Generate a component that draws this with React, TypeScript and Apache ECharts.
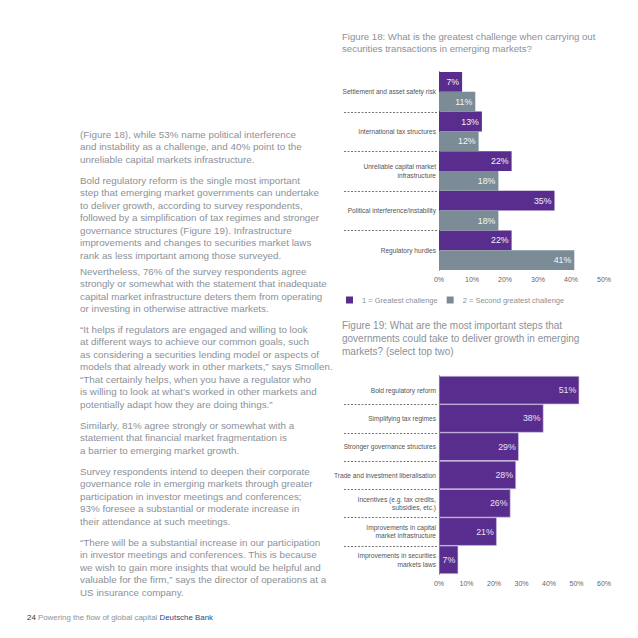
import React, { useEffect, useRef } from 'react';
import * as echarts from 'echarts';

const fig18Categories = [
  'Settlement and asset safety risk',
  'International tax structures',
  'Unreliable capital market\ninfrastructure',
  'Political interference/instability',
  'Regulatory hurdles',
];
const fig18Greatest = [7, 13, 22, 35, 22];
const fig18Second = [11, 12, 18, 18, 41];
const fig18SeriesNames = ['1 = Greatest challenge', '2 = Second greatest challenge'];

const fig19Categories = [
  'Bold regulatory reform',
  'Simplifying tax regimes',
  'Stronger governance structures',
  'Trade and investment liberalisation',
  'Incentives (e.g. tax credits,\nsubsidies, etc.)',
  'Improvements in capital\nmarket infrastructure',
  'Improvements in securities\nmarkets laws',
];
const fig19Values = [51, 38, 29, 28, 26, 21, 7];

const fig18Title = [
  'Figure 18: What is the greatest challenge when carrying out',
  'securities transactions in emerging markets?',
];
const fig19Title = [
  'Figure 19: What are the most important steps that',
  'governments could take to deliver growth in emerging',
  'markets? (select top two)',
];

const bodyParagraphs = [
  [
    '(Figure 18), while 53% name political interference',
    'and instability as a challenge, and 40% point to the',
    'unreliable capital markets infrastructure.',
  ],
  [
    'Bold regulatory reform is the single most important',
    'step that emerging market governments can undertake',
    'to deliver growth, according to survey respondents,',
    'followed by a simplification of tax regimes and stronger',
    'governance structures (Figure 19). Infrastructure',
    'improvements and changes to securities market laws',
    'rank as less important among those surveyed.',
  ],
  [
    'Nevertheless, 76% of the survey respondents agree',
    'strongly or somewhat with the statement that inadequate',
    'capital market infrastructure deters them from operating',
    'or investing in otherwise attractive markets.',
  ],
  [
    '\u201CIt helps if regulators are engaged and willing to look',
    'at different ways to achieve our common goals, such',
    'as considering a securities lending model or aspects of',
    'models that already work in other markets,\u201D says Smollen.',
    '\u201CThat certainly helps, when you have a regulator who',
    'is willing to look at what\u2019s worked in other markets and',
    'potentially adapt how they are doing things.\u201D',
  ],
  [
    'Similarly, 81% agree strongly or somewhat with a',
    'statement that financial market fragmentation is',
    'a barrier to emerging market growth.',
  ],
  [
    'Survey respondents intend to deepen their corporate',
    'governance role in emerging markets through greater',
    'participation in investor meetings and conferences;',
    '93% foresee a substantial or moderate increase in',
    'their attendance at such meetings.',
  ],
  [
    '\u201CThere will be a substantial increase in our participation',
    'in investor meetings and conferences. This is because',
    'we wish to gain more insights that would be helpful and',
    'valuable for the firm,\u201D says the director of operations at a',
    'US insurance company.',
  ],
];
const paragraphTops = [129, 175, 266, 324, 420, 466, 537];

const PURPLE = '#582d8d';
const GRAY = '#7b8c97';
const TEXT = '#8b9198';
const FONT = '"Liberation Sans", Arial, sans-serif';

export default function App() {
  const ref = useRef<HTMLDivElement>(null);

  useEffect(() => {
    const chart = echarts.init(ref.current!, null, { renderer: 'svg' });
    const valueAxis = (gridIndex: number, max: number) => ({
      type: 'value',
      gridIndex,
      min: 0,
      max,
      interval: 10,
      axisLine: { show: false },
      axisTick: { show: false },
      splitLine: { show: false },
      axisLabel: { formatter: '{value}%', fontSize: 7, color: '#666', margin: 6, fontFamily: FONT },
    });
    const catAxis = (gridIndex: number, data: string[]) => ({
      type: 'category',
      gridIndex,
      data,
      inverse: true,
      axisLine: { show: true, lineStyle: { color: '#111', width: 1 } },
      axisTick: { show: false },
      axisLabel: { fontSize: 6.6, color: '#555', margin: 3, lineHeight: 8.5, fontFamily: FONT },
    });
    const barLabel = (color: string) => ({
      show: true,
      position: 'insideRight',
      formatter: '{c}%',
      fontSize: 8.8,
      fontWeight: 'normal',
      color,
      distance: 3,
      fontFamily: FONT,
    });

    chart.setOption({
      animation: false,
      backgroundColor: '#fff',
      grid: [
        { left: 439, top: 72, width: 165, height: 198 },
        { left: 439, top: 376, width: 165, height: 198 },
      ],
      xAxis: [valueAxis(0, 50), valueAxis(1, 60)],
      yAxis: [catAxis(0, fig18Categories), catAxis(1, fig19Categories)],
      legend: {
        data: fig18SeriesNames,
        left: 341,
        top: 291,
        itemWidth: 7,
        itemHeight: 7,
        itemGap: 9,
        icon: 'rect',
        selectedMode: false,
        textStyle: { fontSize: 7.5, color: TEXT, fontFamily: FONT, padding: [0, 0, 0, 4] },
      },
      series: [
        {
          type: 'bar',
          name: fig18SeriesNames[0],
          xAxisIndex: 0,
          yAxisIndex: 0,
          data: fig18Greatest,
          barGap: '0%',
          barCategoryGap: '0%',
          itemStyle: { color: PURPLE },
          label: barLabel('#f4f0fa'),
        },
        {
          type: 'bar',
          name: fig18SeriesNames[1],
          xAxisIndex: 0,
          yAxisIndex: 0,
          data: fig18Second,
          barGap: '0%',
          barCategoryGap: '0%',
          itemStyle: { color: GRAY },
          label: barLabel('#f4f6f8'),
        },
        {
          type: 'bar',
          name: 'Figure 19',
          xAxisIndex: 1,
          yAxisIndex: 1,
          data: fig19Values,
          barCategoryGap: '0%',
          itemStyle: { color: PURPLE, borderColor: '#cdc2e2', borderWidth: 0.6 },
          label: barLabel('#e8e0f5'),
        },
      ],
    });

    const graphics: any[] = [];
    const addSeparators = (yAxisIndex: number, cats: string[]) => {
      for (let i = 0; i < cats.length - 1; i++) {
        const a = chart.convertToPixel({ yAxisIndex }, i) as unknown as number;
        const b = chart.convertToPixel({ yAxisIndex }, i + 1) as unknown as number;
        const y = Math.round((a + b) / 2) + 0.5;
        graphics.push({
          type: 'line',
          shape: { x1: 344, y1: y, x2: 437, y2: y },
          style: { stroke: '#555', lineWidth: 0.8, lineDash: [2, 1.5] },
        });
      }
    };
    addSeparators(0, fig18Categories);
    addSeparators(1, fig19Categories);
    fig18Title.forEach((t, i) =>
      graphics.push({
        type: 'text',
        x: 342,
        y: 36 + i * 12.5,
        style: { text: t, fill: TEXT, fontSize: 9.6, fontFamily: FONT, verticalAlign: 'middle' },
      })
    );
    fig19Title.forEach((t, i) =>
      graphics.push({
        type: 'text',
        x: 342,
        y: 325 + i * 13,
        style: { text: t, fill: TEXT, fontSize: 10, fontFamily: FONT, verticalAlign: 'middle' },
      })
    );
    chart.setOption({ graphic: graphics });

    return () => chart.dispose();
  }, []);

  return (
    <div style={{ position: 'fixed', left: 0, top: 0, width: 638, height: 638, background: '#fff', overflow: 'hidden' }}>
      <div ref={ref} style={{ position: 'absolute', left: 0, top: 0, width: 638, height: 638 }} />
      {bodyParagraphs.map((p, pi) =>
        p.map((line, li) => (
          <div
            key={pi + '-' + li}
            style={{
              position: 'absolute',
              left: 80,
              top: paragraphTops[pi] + li * 12.45,
              fontFamily: FONT,
              fontSize: 9.8,
              lineHeight: '12px',
              letterSpacing: '0.02px',
              color: TEXT,
              whiteSpace: 'nowrap',
            }}
          >
            {line}
          </div>
        ))
      )}
      <div
        style={{
          position: 'absolute',
          left: 27,
          top: 613,
          fontFamily: FONT,
          fontSize: 7.9,
          lineHeight: '10px',
          whiteSpace: 'nowrap',
        }}
      >
        <span style={{ color: '#333' }}>24</span>
        <span style={{ color: TEXT }}>{' Powering the flow of global capital '}</span>
        <span style={{ color: '#2a4a80' }}>Deutsche Bank</span>
      </div>
    </div>
  );
}
